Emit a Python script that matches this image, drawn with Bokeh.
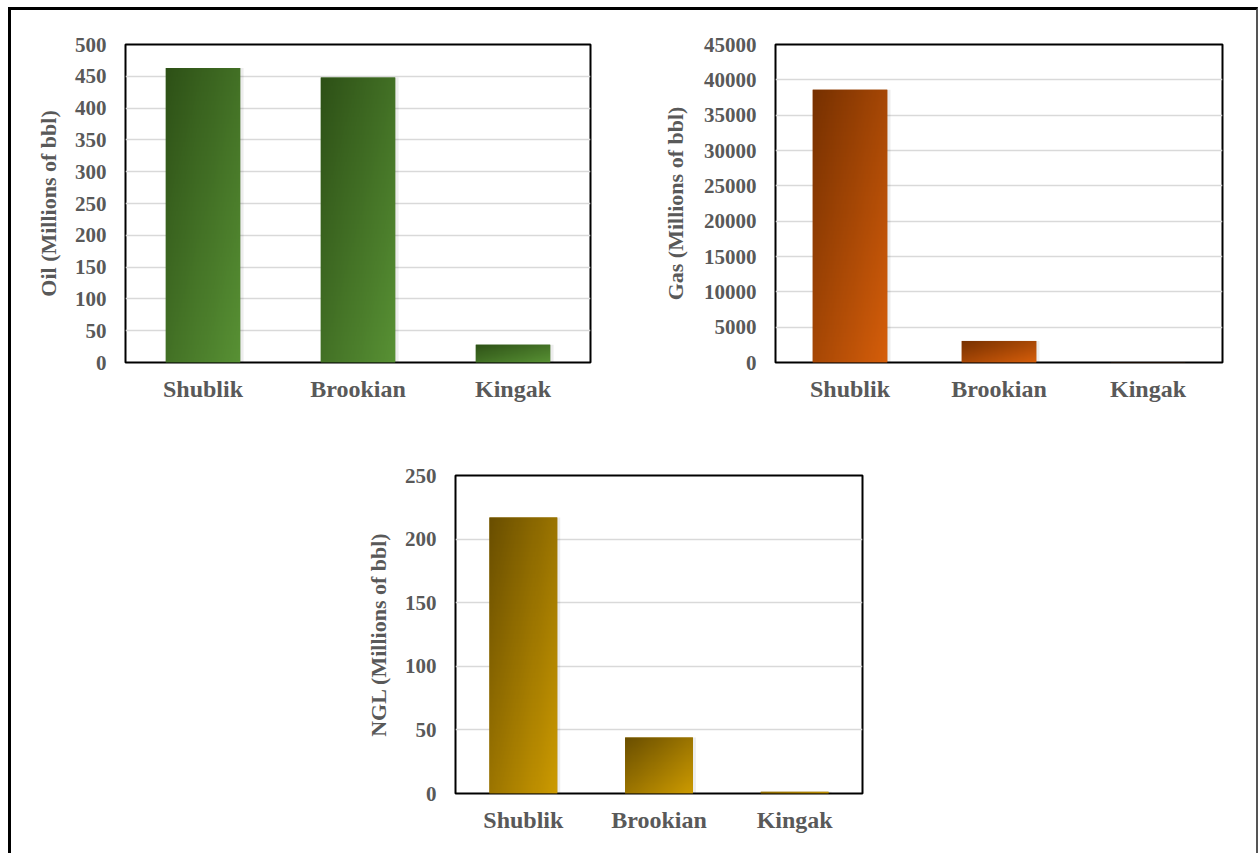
import numpy as np
from bokeh.plotting import figure
from bokeh.layouts import column, row
from bokeh.models import Spacer, FixedTicker, Range1d
from bokeh.embed import file_html
from bokeh.resources import INLINE

# Resource estimates per formation
formations = ["Shublik", "Brookian", "Kingak"]
oil_values = [463, 448, 28]        # Millions of bbl
gas_values = [38600, 3050, 20]     # Millions of bbl
ngl_values = [217, 44, 1.3]        # Millions of bbl

oil_ticks = [0, 50, 100, 150, 200, 250, 300, 350, 400, 450, 500]
gas_ticks = [0, 5000, 10000, 15000, 20000, 25000, 30000, 35000, 40000, 45000]
ngl_ticks = [0, 50, 100, 150, 200, 250]

FONT = "Liberation Serif"
TEXT = "#595959"


def gradient_texture(dark, light, n=64):
    """Diagonal shading: dark at the top-left corner, light at the bottom-right."""
    u = np.linspace(0.0, 1.0, n)
    uu, rr = np.meshgrid(u, u)
    v = 1.0 - rr                      # row 0 is the bottom of the image
    t = (uu + v) / 2.0
    img = np.empty((n, n), dtype=np.uint32)
    view = img.view(dtype=np.uint8).reshape((n, n, 4))
    for k in range(3):
        view[:, :, k] = np.round(dark[k] + (light[k] - dark[k]) * t).astype(np.uint8)
    view[:, :, 3] = 255
    return img


def bar_panel(values, ticks, ylabel, dark, light, bar_w, frame_w,
              left, right, top, bottom, title_standoff):
    n = len(formations)
    p = figure(frame_width=frame_w, frame_height=318,
               x_range=Range1d(0, n), y_range=Range1d(ticks[0], ticks[-1]),
               output_backend="svg", toolbar_location=None,
               min_border_left=left, min_border_right=right,
               min_border_top=top, min_border_bottom=bottom,
               background_fill_color="white", border_fill_color="white")
    centers = [i + 0.5 for i in range(n)]
    mid = "#%02x%02x%02x" % tuple((d + l) // 2 for d, l in zip(dark, light))

    # soft shadow behind each bar
    p.vbar(x=[c + 0.012 for c in centers], top=values, bottom=0,
           width=bar_w + 0.02, fill_color="#000000", fill_alpha=0.07, line_color=None)
    p.vbar(x=centers, top=values, bottom=0, width=bar_w,
           fill_color=mid, line_color=None)
    tex = gradient_texture(dark, light)
    p.image_rgba(image=[tex] * n, x=[c - bar_w / 2 for c in centers],
                 y=[0] * n, dw=[bar_w] * n, dh=values)

    p.outline_line_color = "black"
    p.outline_line_width = 2

    p.xgrid.visible = False
    p.ygrid.ticker = FixedTicker(ticks=ticks)
    p.ygrid.grid_line_color = "#d9d9d9"
    p.ygrid.grid_line_width = 1.5

    p.xaxis.ticker = FixedTicker(ticks=centers)
    p.xaxis.major_label_overrides = {c: name for c, name in zip(centers, formations)}
    p.yaxis.ticker = FixedTicker(ticks=ticks)
    p.yaxis.axis_label = ylabel

    for ax in (p.xaxis[0], p.yaxis[0]):
        ax.axis_line_color = None
        ax.major_tick_line_color = None
        ax.minor_tick_line_color = None
        ax.major_tick_out = 0
        ax.major_tick_in = 0
        ax.major_label_text_font = FONT
        ax.major_label_text_font_style = "bold"
        ax.major_label_text_color = TEXT
    p.xaxis.major_label_text_font_size = "24px"
    p.xaxis.major_label_standoff = 13
    p.yaxis.major_label_text_font_size = "21px"
    p.yaxis.major_label_standoff = 19
    p.yaxis.axis_label_text_font = FONT
    p.yaxis.axis_label_text_font_style = "bold"
    p.yaxis.axis_label_text_font_size = "22px"
    p.yaxis.axis_label_text_color = TEXT
    p.yaxis.axis_label_standoff = title_standoff
    return p


p_oil = bar_panel(oil_values, oil_ticks, "Oil (Millions of bbl)",
                  (45, 80, 22), (88, 145, 52), 0.48, 465, 114, 30, 34, 78, 11)
p_gas = bar_panel(gas_values, gas_ticks, "Gas (Millions of bbl)",
                  (118, 48, 0), (214, 94, 10), 0.5, 447, 155, 34, 34, 78, 13)
p_ngl = bar_panel(ngl_values, ngl_ticks, "NGL (Millions of bbl)",
                  (105, 78, 0), (205, 155, 0), 0.5, 407, 114, 30, 35, 60, 11)

layout = column(
    row(p_oil, p_gas),
    row(Spacer(width=330, height=413), p_ngl),
    styles={
        "margin-left": "8px",
        "margin-top": "7px",
        "border-left": "3px solid #000",
        "border-top": "3px solid #000",
        "border-right": "2px solid #555",
        "background": "white",
    },
)

open("out.html", "w").write(file_html(layout, INLINE))
